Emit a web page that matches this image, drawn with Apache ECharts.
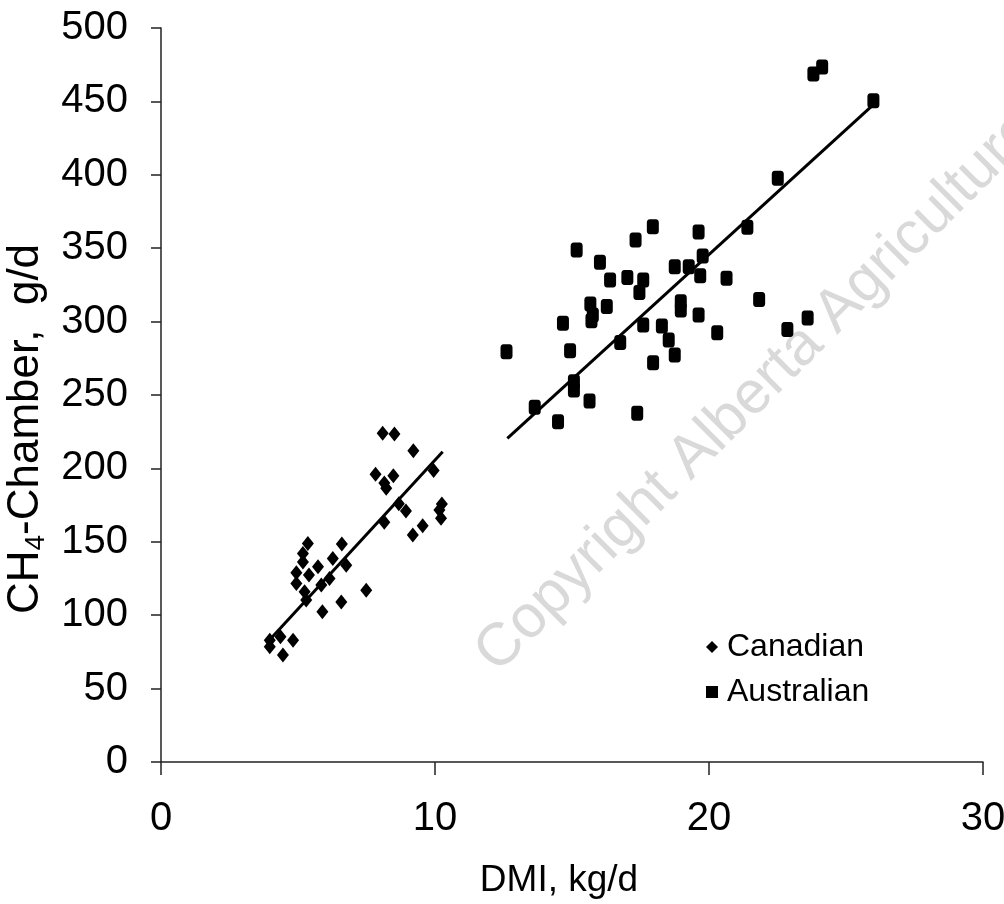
<!DOCTYPE html>
<html>
<head>
<meta charset="UTF-8">
<title>CH4 vs DMI</title>
<script src="https://cdn.jsdelivr.net/npm/echarts@6/dist/echarts.min.js"></script>
<style>
  html, body { margin: 0; padding: 0; background: #fff; }
</style>
</head>
<body>
<div id="main" style="width: 1004px;height:904px;"></div>
<script type="text/javascript">
// Canadian cattle (DMI kg/d, CH4 g/d)
var canX = [8.09, 8.52, 9.21, 9.95, 7.83, 8.48, 8.15, 8.22, 8.68, 8.94, 10.25, 10.16, 10.22, 9.55, 9.19, 8.15,
            5.36, 6.6, 5.18, 5.18, 5.73, 6.27, 6.76, 4.94, 5.4, 4.94, 5.85, 6.15, 5.24, 5.3, 7.49, 6.58, 5.89,
            3.97, 4.36, 4.82, 3.97, 4.45];
var canY = [224, 223.4, 212, 198.5, 196, 195, 190, 186.5, 176, 171, 175.7, 171.7, 166, 161, 154.6, 163.3,
            148.8, 148.5, 142, 136.3, 133, 138.7, 134, 129, 127.4, 121.6, 120.6, 125, 116, 110.4, 117, 109, 102.3,
            83, 85.4, 83, 78.5, 72.9];
// Australian cattle
var ausX = [12.61, 15.17, 16.02, 16.39, 17.02, 17.6, 17.32, 17.95, 19.62, 21.4, 17.46, 18.75, 19.26, 19.77, 19.68,
            20.64, 21.83, 15.67, 15.76, 15.71, 16.27, 14.67, 18.97, 18.97, 19.62, 17.6, 18.28, 18.53, 18.75, 20.3,
            16.76, 14.93, 17.96, 15.07, 15.07, 13.64, 15.64, 14.49, 17.38, 23.81, 24.13, 26.0, 22.51, 22.86, 23.6];
var ausY = [279.5, 348.8, 340.4, 328.3, 330, 328.3, 355.6, 364.6, 361, 364.2, 319.8, 337.4, 337.4, 344.7, 331.3,
            329.5, 315, 312, 304.5, 300.6, 310.3, 298.8, 313.5, 307.9, 304.5, 297.7, 297, 287.5, 277.2, 292.4,
            285.8, 280.2, 272, 259, 253.4, 241.6, 245.9, 231.7, 237.5, 468.7, 473.5, 450.4, 397.6, 294.6, 302.5];
// regression lines, end points
var canLineX = [3.85, 10.28];
var canLineY = [80.9, 211.4];
var ausLineX = [12.64, 26.05];
var ausLineY = [220.5, 448.6];

var xTicks = [0, 10, 20, 30];
var yTicks = [0, 50, 100, 150, 200, 250, 300, 350, 400, 450, 500];

function pairs(xs, ys) {
    var out = [];
    for (var i = 0; i < xs.length; i++) out.push([xs[i], ys[i]]);
    return out;
}

var sans = '"Liberation Sans", Arial, sans-serif';

var myChart = echarts.init(document.getElementById('main'));

var option = {
    animation: false,
    backgroundColor: '#fff',
    grid: { left: 161, right: 21, top: 28, bottom: 142, containLabel: false, outerBoundsMode: 'none' },
    graphic: [{
        type: 'text',
        z: -10,
        silent: true,
        x: 507, y: 684,
        rotation: Math.PI / 4,
        style: {
            text: 'Copyright Alberta Agriculture',
            fill: '#d9d9d9',
            font: '60px "Liberation Sans", Arial, sans-serif',
            textAlign: 'left',
            textVerticalAlign: 'bottom'
        }
    }],
    legend: {
        orient: 'vertical',
        left: 701,
        top: 626,
        itemGap: 13,
        itemWidth: 12,
        itemHeight: 12,
        data: [
            { name: 'Canadian', icon: 'diamond' },
            { name: 'Australian', icon: 'rect' }
        ],
        itemStyle: { opacity: 1 },
        textStyle: { fontFamily: sans, fontSize: 32, color: '#000', padding: [0, 0, 0, 4] }
    },
    xAxis: {
        type: 'value',
        min: 0, max: 30, interval: 10,
        name: 'DMI, kg/d',
        nameLocation: 'middle',
        nameGap: 100,
        nameTextStyle: { fontFamily: sans, fontSize: 37, color: '#000', padding: [0, 26, 0, 0] },
        axisLine: { lineStyle: { color: '#222', width: 1.5 } },
        axisTick: { show: true, inside: false, length: 13, lineStyle: { color: '#222', width: 1.5 } },
        axisLabel: {
            fontFamily: sans, fontSize: 40, color: '#000', margin: 37,
            formatter: function (v) { return xTicks.indexOf(v) >= 0 ? v : ''; }
        },
        splitLine: { show: false }
    },
    yAxis: {
        type: 'value',
        min: 0, max: 500, interval: 50,
        name: '{a|CH}{s|4}{a|-Chamber,  g/d}',
        nameLocation: 'middle',
        nameGap: 105,
        nameRotate: 90,
        nameTextStyle: {
            padding: [0, 68, 0, 0],
            rich: {
                a: { fontFamily: sans, fontSize: 44, color: '#000' },
                s: { fontFamily: sans, fontSize: 28, color: '#000', padding: [22, 0, 0, 0] }
            }
        },
        axisLine: { show: true, lineStyle: { color: '#222', width: 1.5 } },
        axisTick: { show: true, inside: false, length: 10, lineStyle: { color: '#222', width: 1.5 } },
        axisLabel: {
            fontFamily: sans, fontSize: 40, color: '#000', margin: 33,
            formatter: function (v) { return yTicks.indexOf(v) >= 0 ? v : ''; }
        },
        splitLine: { show: false }
    },
    series: [{
        name: 'Canadian',
        type: 'scatter',
        symbol: 'diamond',
        symbolSize: [12, 15],
        itemStyle: { color: '#000', opacity: 1 },
        z: 3,
        data: pairs(canX, canY)
    }, {
        name: 'Australian',
        type: 'scatter',
        symbol: 'roundRect',
        symbolSize: [12, 15],
        itemStyle: { color: '#000', opacity: 1 },
        z: 3,
        data: pairs(ausX, ausY)
    }, {
        name: 'Canadian fit',
        type: 'line',
        showSymbol: false,
        symbol: 'none',
        lineStyle: { color: '#000', width: 3 },
        z: 2,
        data: pairs(canLineX, canLineY)
    }, {
        name: 'Australian fit',
        type: 'line',
        showSymbol: false,
        symbol: 'none',
        lineStyle: { color: '#000', width: 3 },
        z: 2,
        data: pairs(ausLineX, ausLineY)
    }]
};

myChart.setOption(option);
</script>
</body>
</html>
